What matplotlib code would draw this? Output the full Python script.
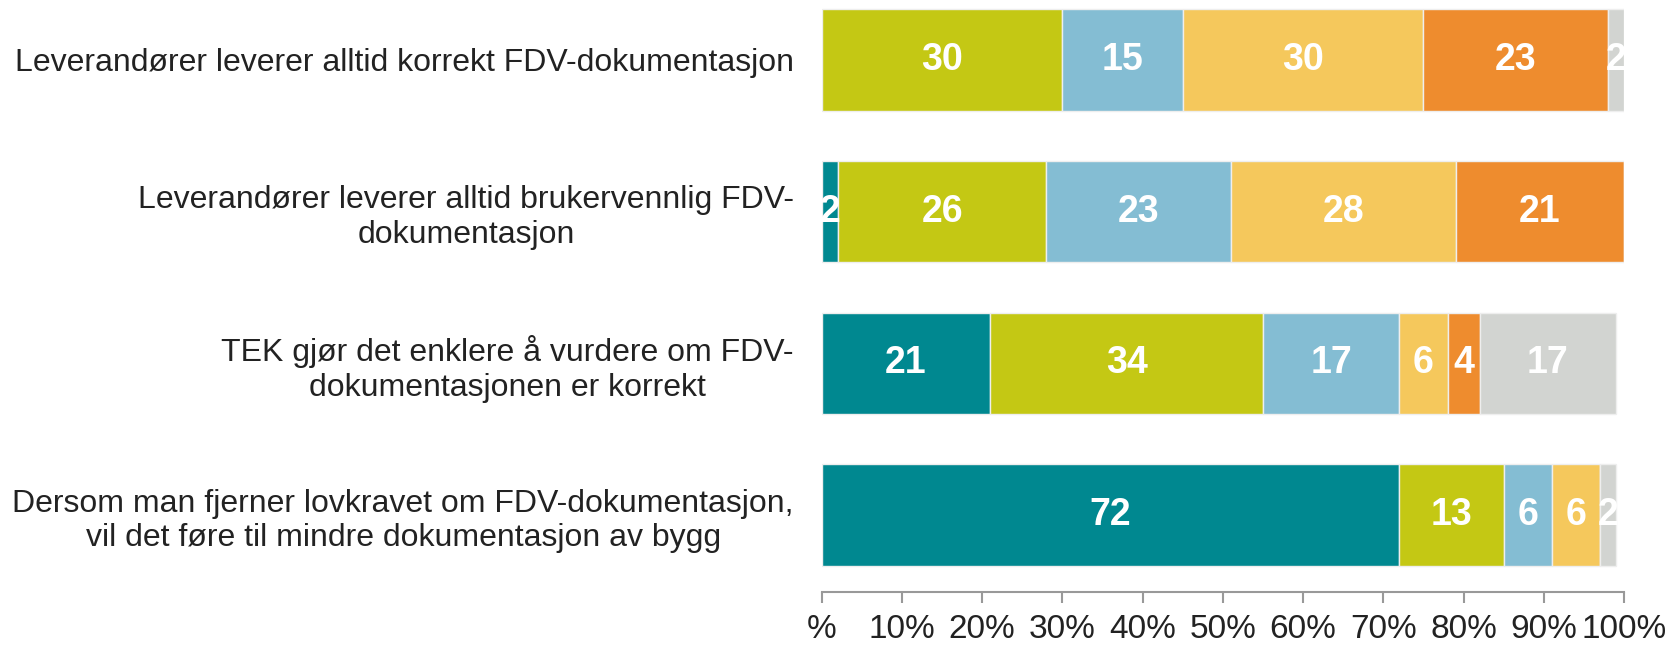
import matplotlib.pyplot as plt
import numpy as np
from matplotlib import font_manager

plt.rcParams['font.family'] = ['Liberation Sans', 'DejaVu Sans']

# Kategorier (øverst først)
categories = [
    "Leverandører leverer alltid korrekt FDV-dokumentasjon",
    "Leverandører leverer alltid brukervennlig FDV-\ndokumentasjon",
    "TEK gjør det enklere å vurdere om FDV-\ndokumentasjonen er korrekt",
    "Dersom man fjerner lovkravet om FDV-dokumentasjon,\nvil det føre til mindre dokumentasjon av bygg",
]

# Verdier per svaralternativ (prosent), samme rekkefølge som kategoriene
s1 = [0, 2, 21, 72]     # teal
s2 = [30, 26, 34, 13]   # oliven
s3 = [15, 23, 17, 6]    # lyseblå
s4 = [30, 28, 6, 6]     # gul
s5 = [23, 21, 4, 0]     # oransje
s6 = [2, 0, 17, 2]      # grå
series = [s1, s2, s3, s4, s5, s6]
colors = ['#008890', '#C4C814', '#84BDD3', '#F5C85C', '#EE8C2E', '#D2D4D1']

tick_vals = np.arange(0, 101, 10)
tick_labels = ['%'] + [f'{v}%' for v in tick_vals[1:]]

# smal skrift for aksetallene hvis den finnes
names = {f.name for f in font_manager.fontManager.ttflist}
narrow = 'Liberation Sans Narrow' if 'Liberation Sans Narrow' in names else 'Liberation Sans'

fig = plt.figure(figsize=(16.77, 6.45), dpi=100)
ax = fig.add_axes([0.490, 0.0822, 0.4784, 0.9178])

y = np.arange(len(categories))[::-1]
left = np.zeros(len(categories))
for vals, col in zip(series, colors):
    vals = np.array(vals, dtype=float)
    bars = ax.barh(y, vals, left=left, height=0.67, color=col,
                   edgecolor='#eeeeee', linewidth=1)
    for b, v, l, yy in zip(bars, vals, left, y):
        if v > 0:
            t = ax.text(l + v / 2, yy, f'{int(v)}', ha='center', va='center',
                        color='white', fontsize=27, fontweight='bold')
            t.set_clip_path(b)
    left += vals

ax.set_xlim(0, 100)
ax.set_ylim(-0.507, 3.395)
ax.set_yticks(y)
ax.set_yticklabels(categories, fontsize=23, multialignment='center', color='#222222')
ax.tick_params(axis='y', length=0, pad=20)
ax.set_xticks(tick_vals)
ax.set_xticklabels(tick_labels, fontsize=24, color='#222222', family=narrow)
ax.tick_params(axis='x', length=8, color='#999999', width=1.5, pad=8)

for s in ['top', 'right', 'left']:
    ax.spines[s].set_visible(False)
ax.spines['bottom'].set_color('#999999')
ax.spines['bottom'].set_linewidth(1.5)

plt.savefig("out.png", dpi=100)
